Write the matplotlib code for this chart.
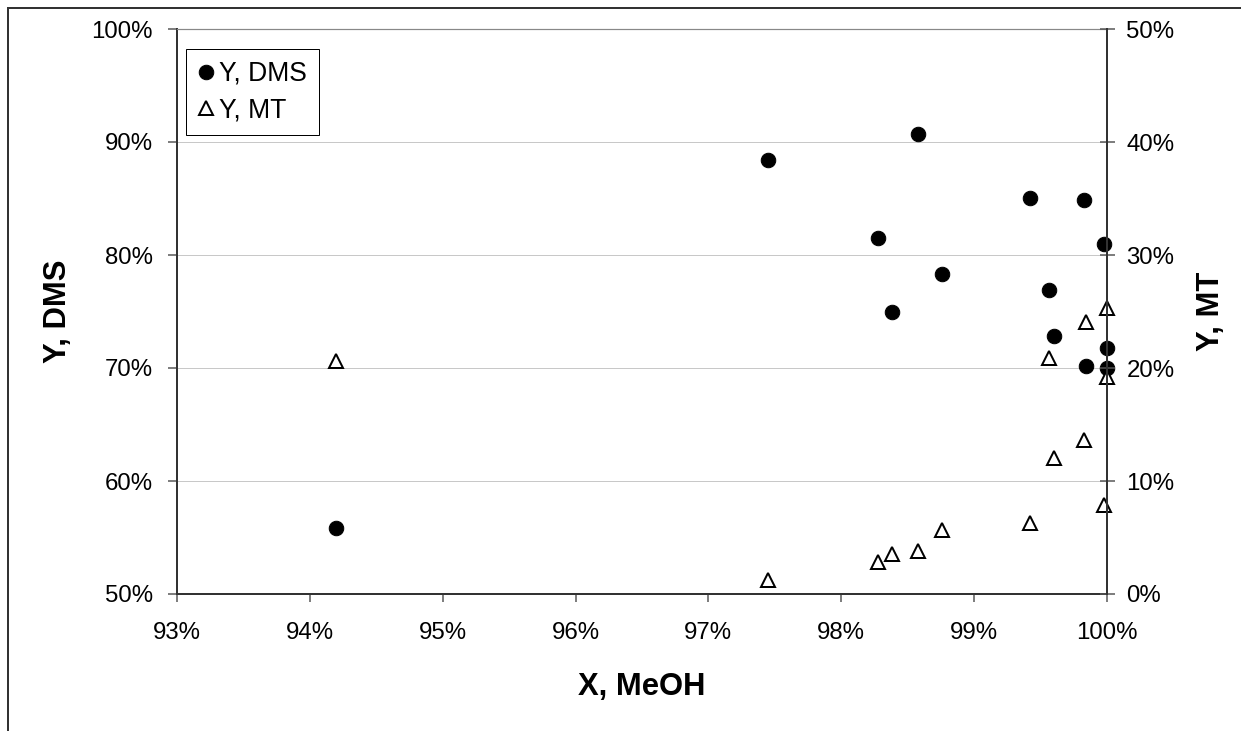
import matplotlib
matplotlib.use("Agg")
import matplotlib.pyplot as plt
from matplotlib.ticker import PercentFormatter, MultipleLocator
from matplotlib.lines import Line2D

plt.rcParams["font.family"] = ["Liberation Sans", "DejaVu Sans"]

# ==========================
# DATA (%)
# ==========================

x_meoh = [94.20, 97.45, 98.28, 98.385, 98.58, 98.76, 99.42,
          99.56, 99.60, 99.83, 99.84, 99.98, 100.0, 100.0]

y_dms = [55.8, 88.4, 81.5, 75.0, 90.7, 78.3, 85.0,
         76.9, 72.8, 84.9, 70.2, 81.0, 71.8, 70.0]

y_mt = [20.6, 1.2, 2.8, 3.5, 3.8, 5.7, 6.3,
        20.9, 12.0, 13.6, 24.1, 7.9, 25.3, 19.2]

series_labels = ["Y, DMS", "Y, MT"]

# ==========================
# FIGURE
# ==========================

W, H = 1249, 731
fig = plt.figure(figsize=(W / 72, H / 72), dpi=72)

ax = fig.add_axes([177 / W, 137 / H, 930 / W, 565 / H])
ax2 = ax.twinx()

dark = "#333333"

# ==========================
# POINTS
# ==========================

ax.plot(
    x_meoh,
    y_dms,
    "o",
    ms=14.5,
    color="black",
    clip_on=False,
    label=series_labels[0]
)

ax2.plot(
    x_meoh,
    y_mt,
    "^",
    ms=14,
    mfc="white",
    mec="black",
    mew=2,
    clip_on=False,
    label=series_labels[1]
)

# ==========================
# AXES
# ==========================

ax.set_xlim(93, 100)
ax.set_ylim(50, 100)
ax2.set_ylim(0, 50)

ax.xaxis.set_major_locator(MultipleLocator(1))
ax.yaxis.set_major_locator(MultipleLocator(10))
ax2.yaxis.set_major_locator(MultipleLocator(10))

pct = PercentFormatter(xmax=100, decimals=0)
ax.xaxis.set_major_formatter(pct)
ax.yaxis.set_major_formatter(pct)
ax2.yaxis.set_major_formatter(PercentFormatter(xmax=100, decimals=0))

ax.yaxis.grid(True, color="#c8c8c8", lw=1)
ax.set_axisbelow(True)

for side in ["left", "bottom"]:
    ax.spines[side].set_color(dark)
    ax.spines[side].set_linewidth(2)
ax.spines["top"].set_color("#888888")
ax.spines["top"].set_linewidth(1.2)
ax.spines["right"].set_visible(False)

for side in ["left", "bottom", "top"]:
    ax2.spines[side].set_visible(False)
ax2.spines["right"].set_color(dark)
ax2.spines["right"].set_linewidth(2)

ax.tick_params(axis="y", direction="out", length=9, width=1.5,
               color="#555555", labelsize=24, pad=15)
ax.tick_params(axis="x", direction="out", length=8, width=1.5,
               color="#555555", labelsize=24, pad=20)
ax2.tick_params(axis="y", direction="inout", length=15, width=1.5,
                color="#555555", labelsize=24, pad=12)

# ==========================
# LABELS
# ==========================

ax.set_xlabel("X, MeOH", fontsize=31, fontweight="bold")
ax.xaxis.set_label_coords(0.5, -0.138)

ax.set_ylabel("Y, DMS", fontsize=31, fontweight="bold")
ax.yaxis.set_label_coords(-0.128, 0.5)
ax.yaxis.label.set_va("center")

ax2.set_ylabel("Y, MT", fontsize=31, fontweight="bold")
ax2.yaxis.set_label_coords(1.112, 0.5)
ax2.yaxis.label.set_va("center")

# ==========================
# LEGEND
# ==========================

h1, l1 = ax.get_legend_handles_labels()
h2, l2 = ax2.get_legend_handles_labels()

leg = ax2.legend(
    h1 + h2,
    l1 + l2,
    loc="upper left",
    bbox_to_anchor=(9 / 930, 1 - 20 / 565),
    borderaxespad=0,
    fontsize=26.5,
    handlelength=0.6,
    handletextpad=0.2,
    borderpad=0.45,
    labelspacing=0.4,
    fancybox=False,
    framealpha=1,
    edgecolor="black"
)
leg.get_frame().set_linewidth(1)

# ==========================
# OUTER BORDER
# ==========================

fig.add_artist(Line2D([8 / W, 8 / W], [0, 1 - 8 / H],
                      transform=fig.transFigure, color=dark, lw=2))
fig.add_artist(Line2D([8 / W, 1240 / W], [1 - 8 / H, 1 - 8 / H],
                      transform=fig.transFigure, color=dark, lw=2))

fig.savefig("out.png", dpi=72)
